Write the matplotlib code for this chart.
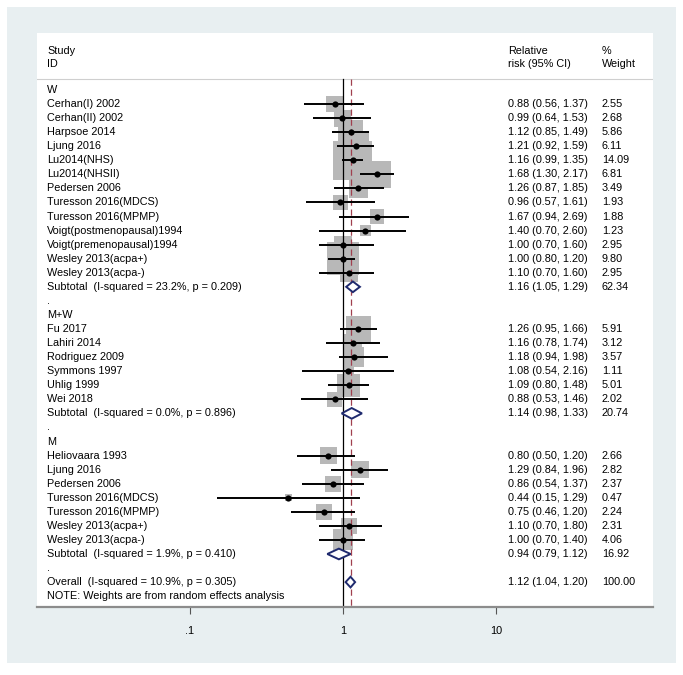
import numpy as np
import matplotlib.pyplot as plt
from matplotlib.patches import Polygon
from matplotlib.transforms import blended_transform_factory

# ---- data ----
w_names = ["Cerhan(I) 2002", "Cerhan(II) 2002", "Harpsoe 2014", "Ljung 2016", "Lu2014(NHS)",
           "Lu2014(NHSII)", "Pedersen 2006", "Turesson 2016(MDCS)", "Turesson 2016(MPMP)",
           "Voigt(postmenopausal)1994", "Voigt(premenopausal)1994", "Wesley 2013(acpa+)",
           "Wesley 2013(acpa-)"]
w_rr = [0.88, 0.99, 1.12, 1.21, 1.16, 1.68, 1.26, 0.96, 1.67, 1.40, 1.00, 1.00, 1.10]
w_lo = [0.56, 0.64, 0.85, 0.92, 0.99, 1.30, 0.87, 0.57, 0.94, 0.70, 0.70, 0.80, 0.70]
w_hi = [1.37, 1.53, 1.49, 1.59, 1.35, 2.17, 1.85, 1.61, 2.69, 2.60, 1.60, 1.20, 1.60]
w_wt = [2.55, 2.68, 5.86, 6.11, 14.09, 6.81, 3.49, 1.93, 1.88, 1.23, 2.95, 9.80, 2.95]

mw_names = ["Fu 2017", "Lahiri 2014", "Rodriguez 2009", "Symmons 1997", "Uhlig 1999", "Wei 2018"]
mw_rr = [1.26, 1.16, 1.18, 1.08, 1.09, 0.88]
mw_lo = [0.95, 0.78, 0.94, 0.54, 0.80, 0.53]
mw_hi = [1.66, 1.74, 1.98, 2.16, 1.48, 1.46]
mw_wt = [5.91, 3.12, 3.57, 1.11, 5.01, 2.02]

m_names = ["Heliovaara 1993", "Ljung 2016", "Pedersen 2006", "Turesson 2016(MDCS)",
           "Turesson 2016(MPMP)", "Wesley 2013(acpa+)", "Wesley 2013(acpa-)"]
m_rr = [0.80, 1.29, 0.86, 0.44, 0.75, 1.10, 1.00]
m_lo = [0.50, 0.84, 0.54, 0.15, 0.46, 0.70, 0.70]
m_hi = [1.20, 1.96, 1.37, 1.29, 1.20, 1.80, 1.40]
m_wt = [2.66, 2.82, 2.37, 0.47, 2.24, 2.31, 4.06]

group_labels = ["W", "M+W", "M"]
sub_labels = ["Subtotal  (I-squared = 23.2%, p = 0.209)",
              "Subtotal  (I-squared = 0.0%, p = 0.896)",
              "Subtotal  (I-squared = 1.9%, p = 0.410)"]
sub_rr = [1.16, 1.14, 0.94]
sub_lo = [1.05, 0.98, 0.79]
sub_hi = [1.29, 1.33, 1.12]
sub_wt = [62.34, 20.74, 16.92]

overall_label = "Overall  (I-squared = 10.9%, p = 0.305)"
overall = (1.12, 1.04, 1.20, 100.00)

tick_vals = [0.1, 1, 10]
tick_labels = [".1", "1", "10"]

groups = [(w_names, w_rr, w_lo, w_hi, w_wt),
          (mw_names, mw_rr, mw_lo, mw_hi, mw_wt),
          (m_names, m_rr, m_lo, m_hi, m_wt)]

# ---- figure layout (pixel based) ----
W, H = 683, 675
fig = plt.figure(figsize=(W / 100, H / 100), dpi=100)
fig.patch.set_facecolor("white")

# bluish-gray graph region behind everything
bg = fig.add_axes([7 / W, 1 - 663 / H, (676 - 7) / W, (663 - 7) / H], zorder=-5)
bg.set_facecolor("#e8eff1")
bg.set_xticks([])
bg.set_yticks([])
for s in bg.spines.values():
    s.set_visible(False)

left, right, top, bottom = 37, 653, 33, 607
ax = fig.add_axes([left / W, 1 - bottom / H, (right - left) / W, (bottom - top) / H], zorder=1)
ax.set_facecolor("white")
ax.set_xscale("log")
x_one, decade = 343, 153
ax.set_xlim(10 ** ((left - x_one) / decade), 10 ** ((right - x_one) / decade))
row_px, y0_px = 14.06, 90
ax.set_ylim(-(bottom - y0_px) / row_px, (y0_px - top) / row_px)

for s in ["top", "left", "right"]:
    ax.spines[s].set_visible(False)
ax.spines["bottom"].set_color("#8c8c8c")
ax.spines["bottom"].set_linewidth(1.6)
ax.set_yticks([])
ax.set_xticks(tick_vals)
ax.set_xticklabels(tick_labels)
ax.minorticks_off()
ax.tick_params(axis="x", length=5, width=0.8, color="#555555", pad=9, labelsize=7.8)

for lab in ax.get_xticklabels():
    lab.set_family(["Liberation Sans", "DejaVu Sans"])

tr = blended_transform_factory(ax.transAxes, ax.transData)
x_name, x_ci, x_wt = 0.0162, 0.7646, 0.917
fs = 7.8
font = dict(fontsize=fs, family=["Liberation Sans", "DejaVu Sans"], va="center")

# header
hdr_line = (y0_px - 79) / row_px
ax.axhline(hdr_line, color="#cfcfcf", lw=0.8)
ax.text(x_name, 2.8, "Study", transform=tr, **font)
ax.text(x_name, 1.85, "ID", transform=tr, **font)
ax.text(x_ci, 2.8, "Relative", transform=tr, **font)
ax.text(x_ci, 1.85, "risk (95% CI)", transform=tr, **font)
ax.text(x_wt, 2.8, "%", transform=tr, **font)
ax.text(x_wt, 1.85, "Weight", transform=tr, **font)

ymin = ax.get_ylim()[0]
ax.plot([1, 1], [hdr_line, ymin], color="black", lw=0.9, zorder=2)
ax.plot([overall[0], overall[0]], [hdr_line, ymin], color="#a0404f", lw=0.9,
        dashes=(5, 3), zorder=2)

box_k = 10.4 * 0.72  # box side in points per sqrt(weight)


def diamond(y, est, lo, hi):
    h = 0.38
    ax.add_patch(Polygon([(lo, y), (est, y + h), (hi, y), (est, y - h)], closed=True,
                         facecolor="white", edgecolor="#1f2a6e", lw=1.4, zorder=4))


row = 0
for g, (names, rr, lo, hi, wt) in enumerate(groups):
    ax.text(x_name, -row, group_labels[g], transform=tr, **font)
    row += 1
    ys = -np.arange(row, row + len(names))
    ax.scatter(rr, ys, s=(box_k * np.sqrt(wt)) ** 2, marker="s", color="#b8b8b8",
               linewidths=0, zorder=1)
    ax.hlines(ys, lo, hi, color="black", lw=1.4, zorder=3)
    ax.scatter(rr, ys, s=20, color="black", zorder=5, linewidths=0)
    for y, n, r, l, h, w in zip(ys, names, rr, lo, hi, wt):
        ax.text(x_name, y, n, transform=tr, **font)
        ax.text(x_ci, y, f"{r:.2f} ({l:.2f}, {h:.2f})", transform=tr, **font)
        ax.text(x_wt, y, f"{w:.2f}", transform=tr, **font)
    row += len(names)
    diamond(-row, sub_rr[g], sub_lo[g], sub_hi[g])
    ax.text(x_name, -row, sub_labels[g], transform=tr, **font)
    ax.text(x_ci, -row, f"{sub_rr[g]:.2f} ({sub_lo[g]:.2f}, {sub_hi[g]:.2f})", transform=tr, **font)
    ax.text(x_wt, -row, f"{sub_wt[g]:.2f}", transform=tr, **font)
    row += 1
    ax.text(x_name, -row, ".", transform=tr, **font)
    row += 1

diamond(-row, overall[0], overall[1], overall[2])
ax.text(x_name, -row, overall_label, transform=tr, **font)
ax.text(x_ci, -row, f"{overall[0]:.2f} ({overall[1]:.2f}, {overall[2]:.2f})", transform=tr, **font)
ax.text(x_wt, -row, f"{overall[3]:.2f}", transform=tr, **font)
row += 1
ax.text(x_name, -row, "NOTE: Weights are from random effects analysis", transform=tr, **font)

fig.savefig("out.png", dpi=100, facecolor=fig.get_facecolor())
